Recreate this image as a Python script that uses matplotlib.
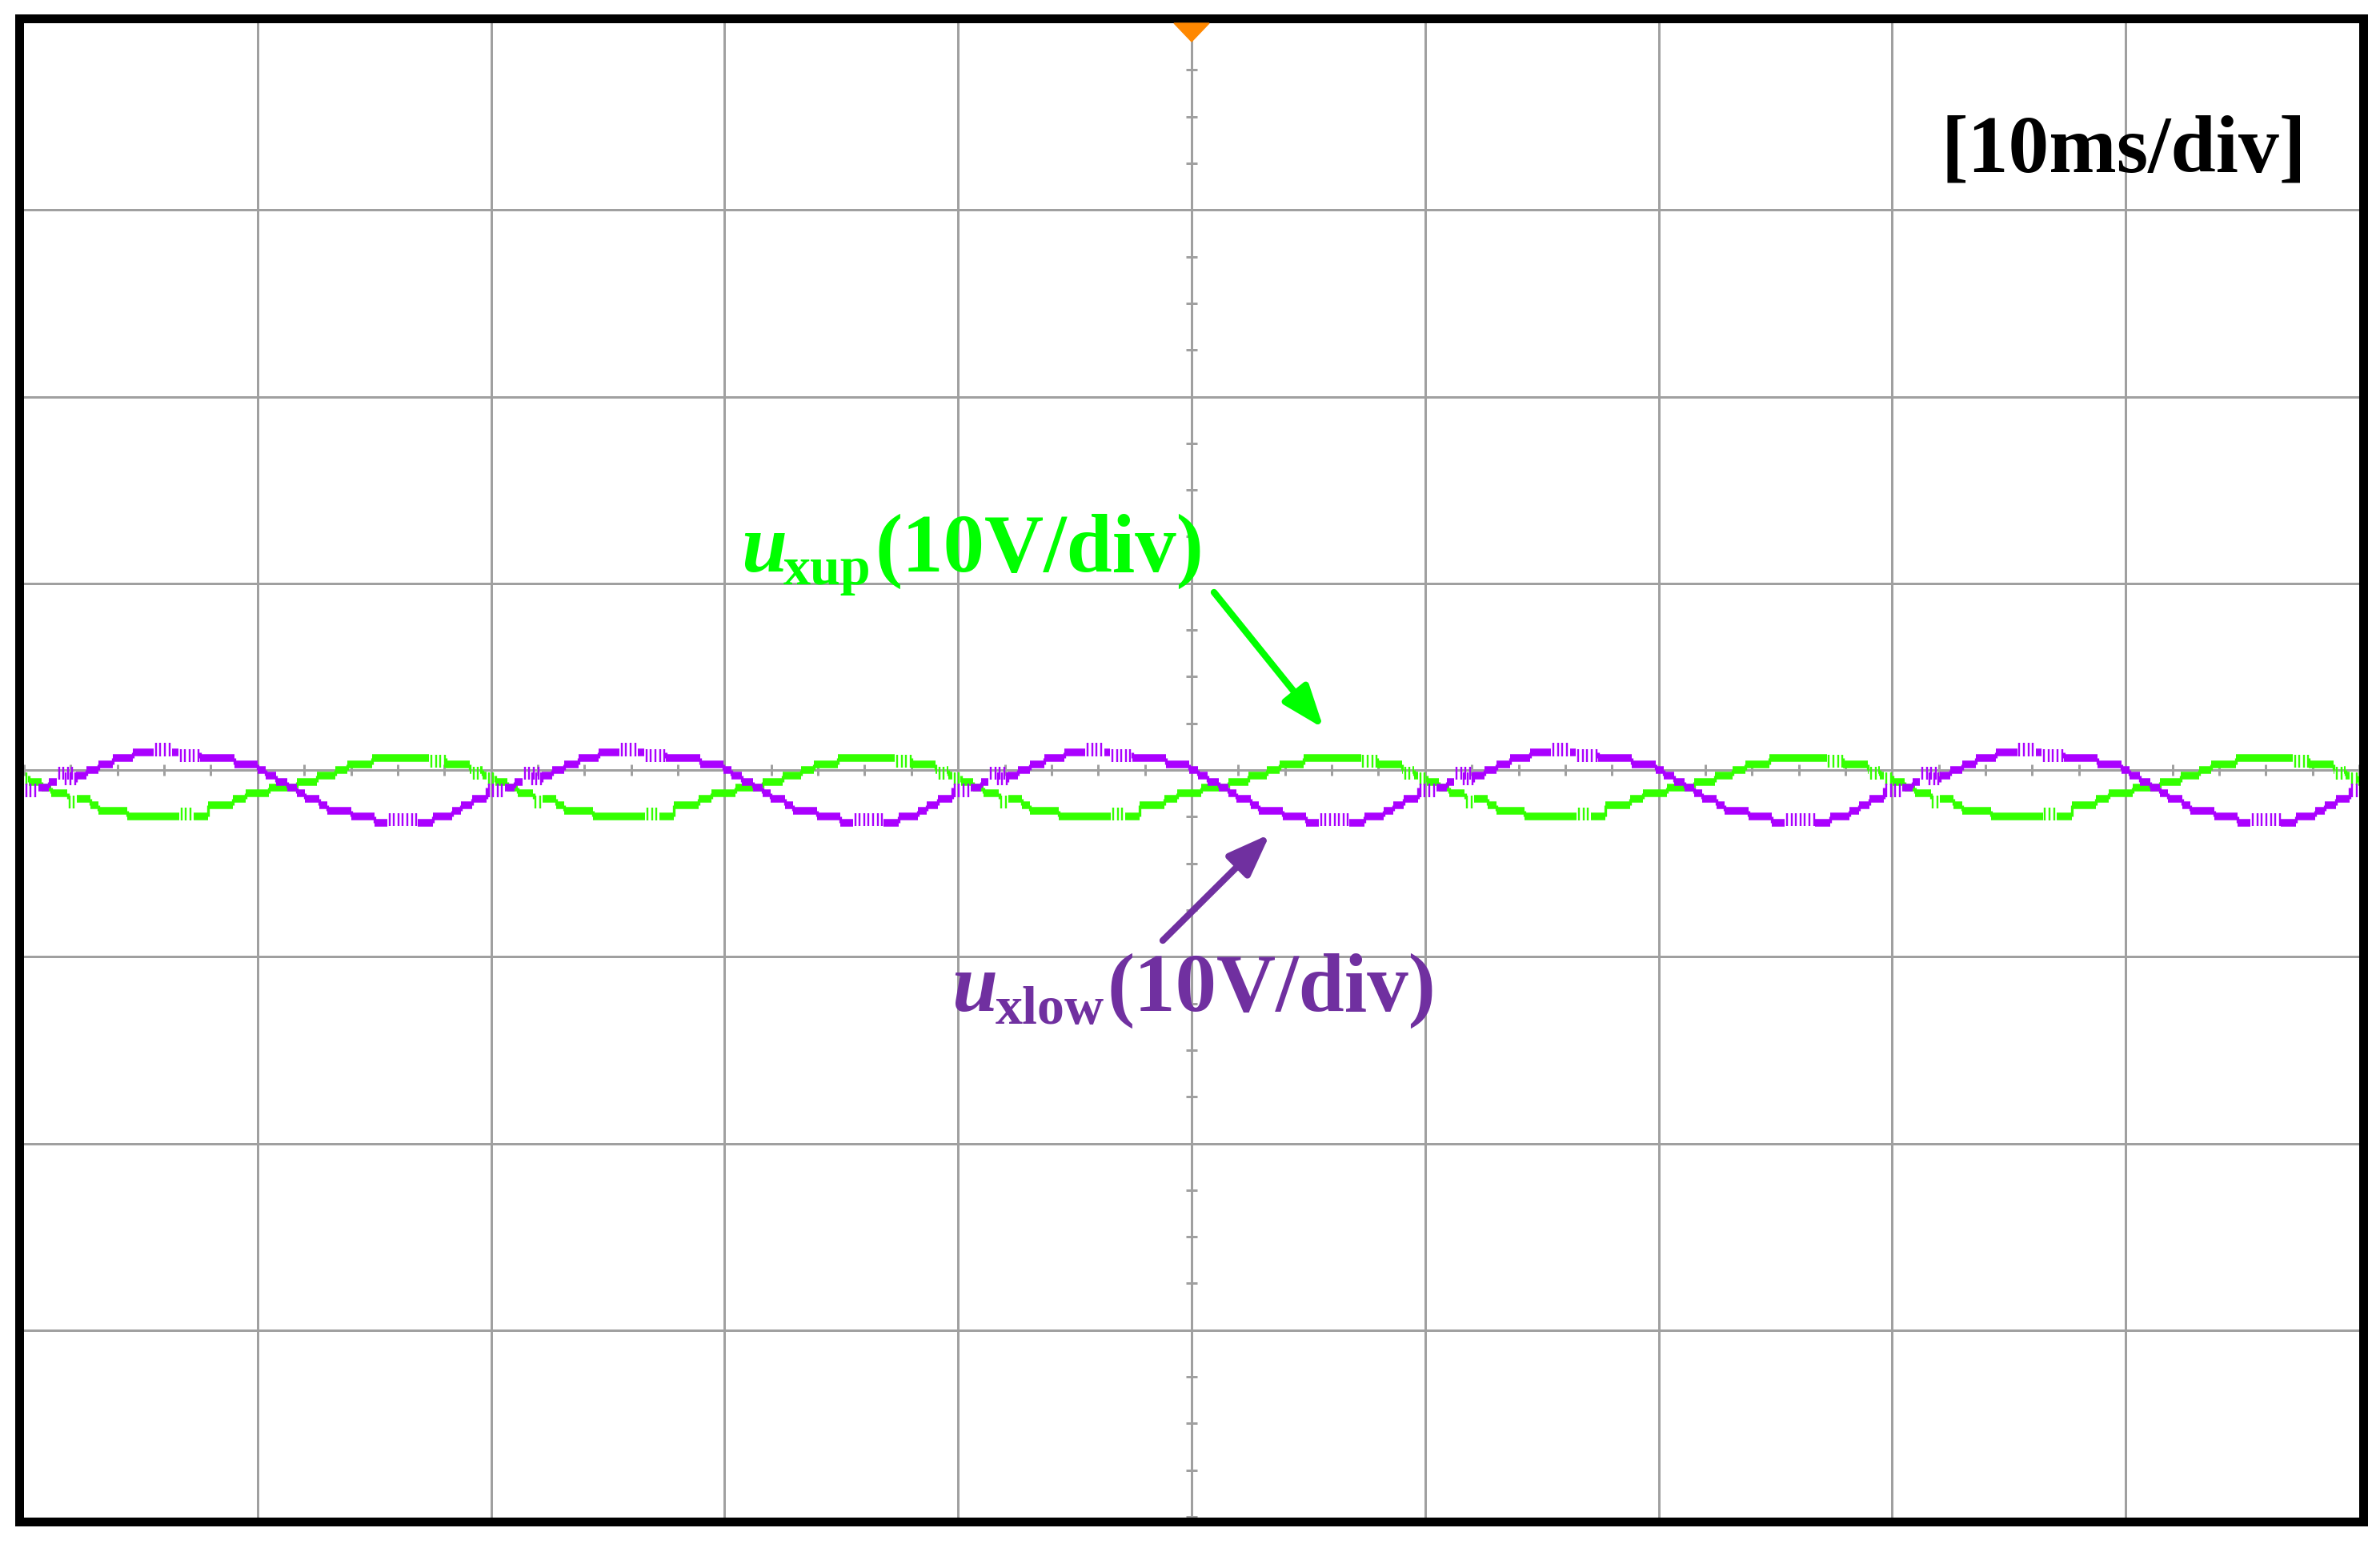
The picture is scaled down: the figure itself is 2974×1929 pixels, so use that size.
import numpy as np
import matplotlib
matplotlib.use("Agg")
import matplotlib.pyplot as plt
from matplotlib.patches import Polygon, FancyArrowPatch

W, H, DPI = 2974, 1929, 100
Q = 10.0 / 32.0          # one ADC step in volts (10 V/div, 32 steps/div)

# ---- one period as read (time in div from left edge, level in ADC steps) ----
purple_t1 = [0, 0.122, 0.238, 0.283, 0.334, 0.395, 0.48, 0.77, 0.915, 1.016, 1.051, 1.095,
             1.142, 1.182, 1.217, 1.278, 1.313, 1.415, 1.515, 1.765, 1.847, 1.887, 1.934]
purple_l1 = [-3, -2, -1, 0, 1, 2, 3, 2, 1, 0, -1, -2, -3, -4, -5, -6, -7, -8, -9, -8, -7, -6, -5]
green_t1 = [0, 0.037, 0.089, 0.133, 0.203, 0.299, 0.334, 0.457, 0.803, 0.908, 0.964, 1.065,
            1.182, 1.270, 1.348, 1.401, 1.506, 1.750, 1.820, 1.925, 1.978]
green_l1 = [-1, -2, -3, -4, -5, -6, -7, -8, -6, -5, -4, -3, -2, -1, 0, 1, 2, 2, 1, 0, -1]
# flicker regions (start div, end div, lower level)
purple_g1 = [(0.0, 0.078, -4), (0.185, 0.238, -2), (0.57, 0.65, 3), (0.676, 0.77, 2),
             (1.57, 1.70, -9), (2.15 - 1.995, 2.23 - 1.995, -1)]
green_g1 = [(0.0, 0.037, -2), (0.20, 0.24, -6), (0.68, 0.74, -8), (1.75, 1.82, 1), (1.93, 1.97, -1)]
period = 1.995
shift = -0.015

def tile(t1, l1):
    t, l = [], []
    for k in range(-1, 6):
        for a, b in zip(t1, l1):
            tt = a + k * period + shift
            if -0.05 < tt <= 10:
                t.append(max(tt, 0.0)); l.append(b)
    t.append(10.0); l.append(l[-1])
    return np.array(t), np.array(l, dtype=float)

def tile_g(g1):
    out = []
    for k in range(-1, 6):
        for a, b, lv in g1:
            a2, b2 = a + k * period + shift, b + k * period + shift
            if b2 > 0 and a2 < 10:
                out.append((max(a2, 0), min(b2, 10), lv))
    return out

pt, pl = tile(purple_t1, purple_l1)
gt, gl = tile(green_t1, green_l1)
pg = tile_g(purple_g1)
gg = tile_g(green_g1)

fig = plt.figure(figsize=(W / DPI, H / DPI), dpi=DPI)
L, R, T, B = 24.5, 2952.5, 23.0, 1901.0
ax = fig.add_axes([L / W, 1 - B / H, (R - L) / W, (B - T) / H])
DIVX, DIVY, X0, Y0 = 291.8, 233.25, 30.0, 962.0
ax.set_xlim((L - X0) / DIVX * 10 - 50, (R - X0) / DIVX * 10 - 50)
ax.set_ylim(-(B - Y0) / DIVY * 10, (Y0 - T) / DIVY * 10)
ax.set_xticks([]); ax.set_yticks([])
for s in ax.spines.values():
    s.set_linewidth(11 * 72 / DPI)
    s.set_color("black")
    s.set_zorder(10)

gridc = "#A0A0A0"
glw = 3 * 72 / DPI
for x in range(-40, 50, 10):
    ax.axvline(x, color=gridc, lw=glw, zorder=1)
for y in range(-30, 40, 10):
    ax.axhline(y, color=gridc, lw=glw, zorder=1)
tx = np.arange(-50, 50.01, 2)
ax.vlines(tx, -7 / DIVY * 10, 7 / DIVY * 10, color=gridc, lw=glw, zorder=1)
ty = np.arange(-40, 40.01, 2.5)
ax.hlines(ty, -7 / DIVX * 10, 7 / DIVX * 10, color=gridc, lw=glw, zorder=1)

tlw = 9.5 * 72 / DPI

def draw_trace(t, lv, glitches, color, z):
    xs, ys = [], []
    for i in range(len(t) - 1):
        a, b = t[i], t[i + 1]
        if b <= a:
            continue
        segs = [(a, b)]
        for g0, g1, _ in glitches:
            new = []
            for s0, s1 in segs:
                if g1 <= s0 or g0 >= s1:
                    new.append((s0, s1))
                else:
                    if s0 < g0: new.append((s0, g0))
                    if g1 < s1: new.append((g1, s1))
            segs = new
        for s0, s1 in segs:
            xs += [(s0 - 5) * 10, (s1 - 5) * 10, np.nan]
            ys += [lv[i] * Q, lv[i] * Q, np.nan]
    ax.plot(xs, ys, color=color, lw=tlw, solid_capstyle="butt", zorder=z)
    for i in range(1, len(t) - 1):
        if lv[i] != lv[i - 1]:
            ax.plot([(t[i] - 5) * 10] * 2, [lv[i - 1] * Q, lv[i] * Q], color=color,
                    lw=tlw * 0.35, solid_capstyle="butt", zorder=z)
    step = 5.6 / DIVX * 10
    for g0, g1, low in glitches:
        xx = np.arange((g0 - 5) * 10 + step / 2, (g1 - 5) * 10, step)
        ax.vlines(xx, (low - 0.6) * Q, (low + 1.6) * Q, color=color, lw=2.4 * 72 / DPI, zorder=z)

draw_trace(gt, gl, gg, "#33FF00", 3)
draw_trace(pt, pl, pg, "#AA00FF", 4)

hw = 22 / DIVX * 10
ax.add_patch(Polygon([(-hw, 40.0), (hw, 40.0), (0, (Y0 - 52) / DIVY * 10)], closed=True,
                     color="#FF8800", zorder=11, clip_on=False))

def fx(x): return x / W
def fy(y): return 1 - y / H

serif = ["Liberation Serif", "DejaVu Serif"]
fig.text(fx(2882), fy(215), "[10ms/div]", ha="right", va="baseline", fontsize=73,
         fontweight="bold", family=serif, color="black")

def label(x_u, x_sub, x_par, base, sub, color):
    fig.text(fx(x_u), fy(base), "u", fontsize=74, fontweight="bold", fontstyle="italic",
             family=serif, color=color, va="baseline")
    fig.text(fx(x_sub), fy(base + 16), sub, fontsize=49, fontweight="bold",
             family=serif, color=color, va="baseline")
    fig.text(fx(x_par), fy(base), "(10V/div)", fontsize=74, fontweight="bold",
             family=serif, color=color, va="baseline")

label(926, 979, 1093, 714, "xup", "#00FF00")
label(1189, 1244, 1383, 1263, "xlow", "#7030A0")

def arrow(x0, y0, x1, y1, color):
    fig.add_artist(FancyArrowPatch(
        (fx(x0), fy(y0)), (fx(x1), fy(y1)), transform=fig.transFigure,
        arrowstyle="-|>,head_length=0.8,head_width=0.3", mutation_scale=40,
        lw=6, color=color, shrinkA=0, shrinkB=0, capstyle="round"))

arrow(1517, 740, 1654, 910, "#00FF00")
arrow(1453, 1175, 1587, 1042, "#7030A0")

fig.savefig("out.png", dpi=DPI, facecolor="white")
